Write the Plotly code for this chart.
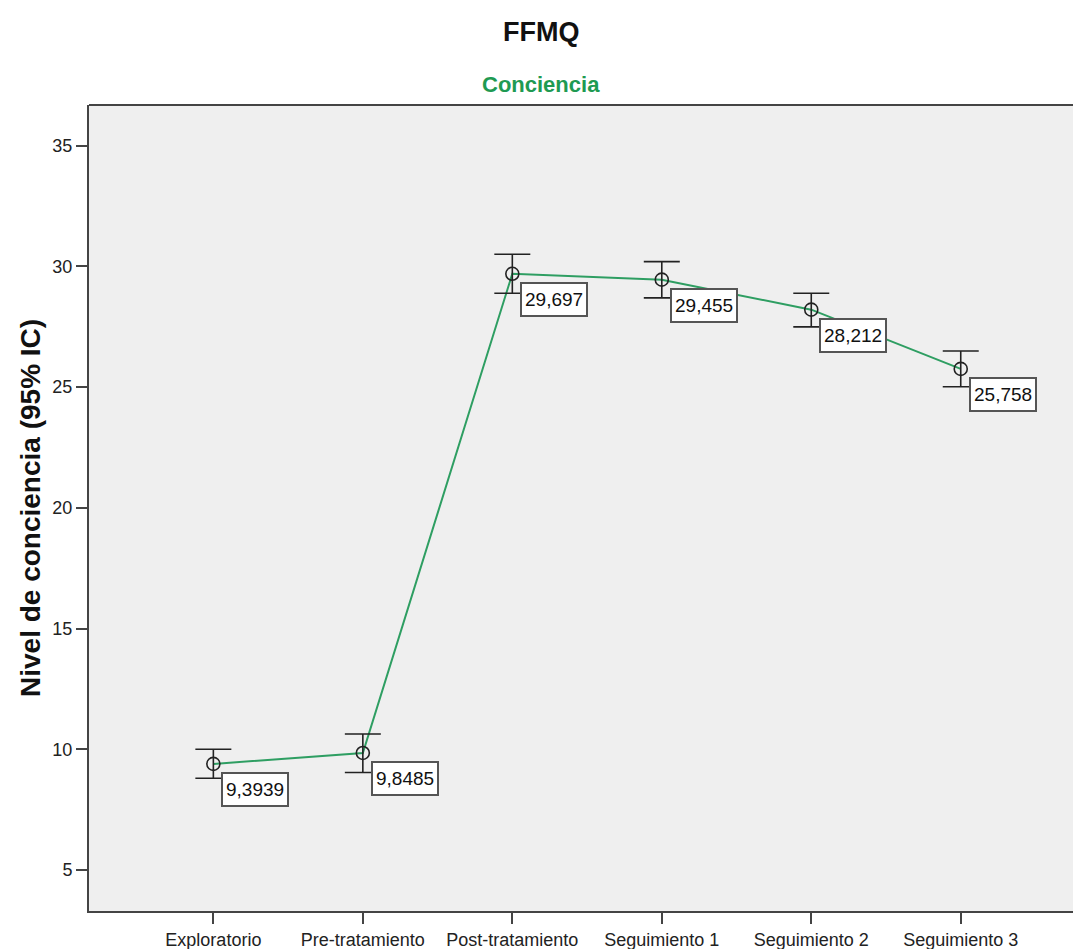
import plotly.graph_objects as go

categories = ["Exploratorio", "Pre-tratamiento", "Post-tratamiento",
              "Seguimiento 1", "Seguimiento 2", "Seguimiento 3"]
means = [9.3939, 9.8485, 29.697, 29.455, 28.212, 25.758]
ci_low = [8.80, 9.04, 28.89, 28.70, 27.50, 25.02]
ci_high = [10.00, 10.63, 30.51, 30.20, 28.89, 26.50]
label_texts = ["9,3939", "9,8485", "29,697", "29,455", "28,212", "25,758"]
y_ticks = [5, 10, 15, 20, 25, 30, 35]

FONT = "Liberation Sans, Arial, sans-serif"
W, H = 1073, 949
ML, MR, MT, MB = 89, 0, 105, 38

err_plus = [h - m for h, m in zip(ci_high, means)]
err_minus = [m - l for m, l in zip(means, ci_low)]

fig = go.Figure()
fig.add_trace(go.Scatter(
    x=categories, y=means, mode="lines",
    line=dict(color="#2e9e62", width=2),
    hoverinfo="skip", showlegend=False,
))
fig.add_trace(go.Scatter(
    x=categories, y=means, mode="markers",
    marker=dict(symbol="circle-open", size=13, color="#222222",
                line=dict(width=1.6, color="#222222")),
    error_y=dict(type="data", symmetric=False, array=err_plus,
                 arrayminus=err_minus, color="#222222", thickness=1.6, width=18),
    showlegend=False,
))

for c, m, t in zip(categories, means, label_texts):
    fig.add_annotation(
        x=c, y=m, text=t, showarrow=False, xanchor="left", yanchor="top",
        xshift=8, yshift=-8, bgcolor="white", bordercolor="#555555",
        borderwidth=2, borderpad=3, height=25,
        font=dict(family=FONT, size=19, color="#111111"),
    )

plot_w = W - ML - MR
plot_h = H - MT - MB

# top border of the plot frame
fig.add_shape(type="line", xref="paper", yref="paper", x0=0, x1=1.01, y0=1, y1=1,
              line=dict(color="#444444", width=2))

# titles
fig.add_annotation(
    text="<b>FFMQ</b>", xref="paper", yref="paper",
    x=(541 - ML) / plot_w, y=(H - MB - 32) / plot_h,
    showarrow=False, xanchor="center", yanchor="middle",
    font=dict(family=FONT, size=27, color="#111111"),
)
fig.add_annotation(
    text="<b>Conciencia</b>", xref="paper", yref="paper",
    x=(541 - ML) / plot_w, y=(H - MB - 85) / plot_h,
    showarrow=False, xanchor="center", yanchor="middle",
    font=dict(family=FONT, size=22, color="#1f9a52"),
)
fig.add_annotation(
    text="<b>Nivel de conciencia (95% IC)</b>", xref="paper", yref="paper",
    x=(30 - ML) / plot_w, y=(H - MB - 508) / plot_h, textangle=-90,
    showarrow=False, xanchor="center", yanchor="middle",
    font=dict(family=FONT, size=28, color="#111111"),
)

fig.update_layout(
    width=W, height=H,
    margin=dict(l=ML, r=MR, t=MT, b=MB, pad=0),
    paper_bgcolor="white", plot_bgcolor="#efefef",
    font=dict(family=FONT, color="#222222"),
    xaxis=dict(
        type="category", range=[-0.832, 5.751],
        showgrid=False, zeroline=False,
        showline=True, linecolor="#444444", linewidth=2, mirror=False,
        ticks="outside", ticklen=11, tickwidth=2, tickcolor="#444444",
        tickfont=dict(family=FONT, size=18, color="#222222"),
    ),
    yaxis=dict(
        range=[3.30, 36.69], tickvals=y_ticks,
        showgrid=False, zeroline=False,
        showline=True, linecolor="#444444", linewidth=2,
        ticks="outside", ticklen=11, tickwidth=2, tickcolor="#444444",
        tickfont=dict(family=FONT, size=18, color="#222222"),
    ),
)

fig.write_html(
    "out.html",
    config={"displayModeBar": False},
    post_script="document.body.style.margin='0';document.body.style.overflow='hidden';",
)
